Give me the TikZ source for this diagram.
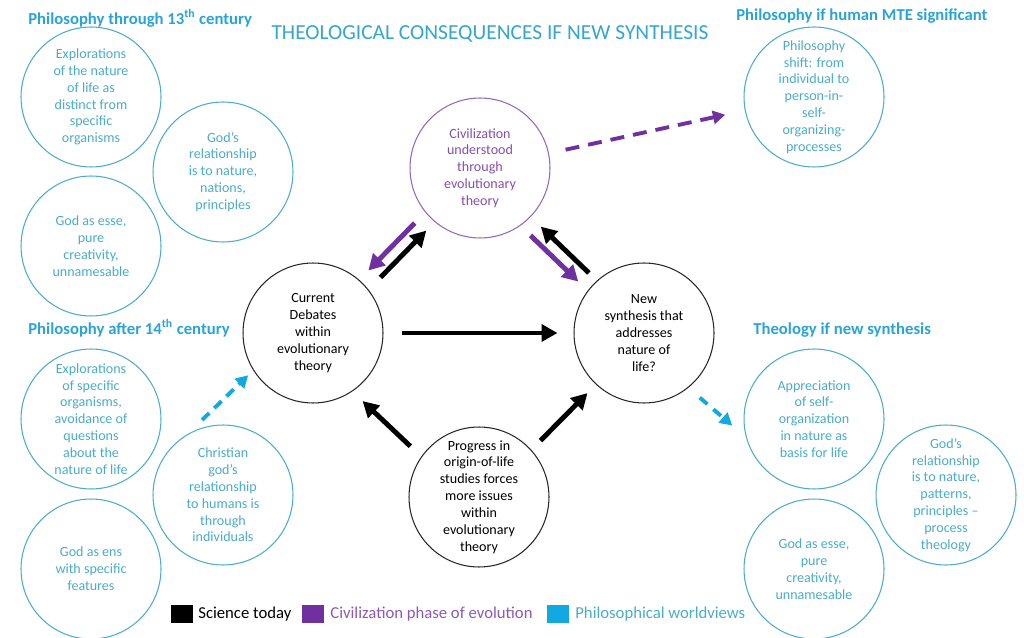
\documentclass[tikz,border=0pt]{standalone}
\usepackage{fontspec}
\setmainfont{Carlito}
\usetikzlibrary{arrows.meta}
\definecolor{aqua}{HTML}{4BACC6}
\definecolor{headblue}{HTML}{2AA3D6}
\definecolor{titleblue}{HTML}{35A6CC}
\definecolor{skyblue}{HTML}{12A8E2}
\definecolor{plum}{HTML}{7030A0}
\tikzset{
  ring/.style={circle, draw, line width=0.6pt, minimum size=2.8cm, inner sep=0pt, align=center, font=\fontsize{8}{9.6}\selectfont},
  philo/.style={ring, draw=aqua, text=aqua},
  sci/.style={ring, draw=black!85, text=black},
  civ/.style={ring, draw=plum!75, text=plum!85},
  heading/.style={anchor=west, inner sep=0pt, text=headblue, font=\fontsize{9.5}{11}\selectfont\bfseries},
  keybox/.style={minimum width=0.43cm, minimum height=0.36cm, inner sep=0pt},
  keytext/.style={anchor=west, inner sep=0pt, font=\fontsize{9.5}{11}\selectfont},
  fat/.style={line width=2.8pt, -{Triangle[length=9pt,width=9.5pt]}},
  thin dash/.style={line width=2.2pt, -{Triangle[length=7pt,width=7.5pt]}},
}

\begin{document}
\begin{tikzpicture}[x=0.02cm, y=-0.02cm]
		%%%%% START %%%%%
		\useasboundingbox (0,0) rectangle (1024,638);
		
		\node[text=titleblue, font=\fontsize{12.2}{14}\selectfont] (title) at (490,34) {THEOLOGICAL CONSEQUENCES IF NEW SYNTHESIS};
		
		\node[heading] (h13) at (28,18) {Philosophy through 13\textsuperscript{th} century};
		\node[heading] (h14) at (28,328) {Philosophy after 14\textsuperscript{th} century};
		\node[heading] (hmte) at (736,16) {Philosophy if human MTE significant};
		\node[heading] (hnew) at (753,330) {Theology if new synthesis};
		
		\node[philo] (life13) at (91,97) {Explorations\\of the nature\\of life as\\distinct from\\specific\\organisms};
		\node[philo] (rel13) at (223,172) {God’s\\relationship\\is to nature,\\nations,\\principles};
		\node[philo] (esse13) at (91,246) {God as esse,\\pure\\creativity,\\unnamesable};
		
		\node[philo] (life14) at (91,419) {Explorations\\of specific\\organisms,\\avoidance of\\questions\\about the\\nature of life};
		\node[philo] (rel14) at (223,495) {Christian\\god’s\\relationship\\to humans is\\through\\individuals};
		\node[philo] (ens14) at (91,569) {God as ens\\with specific\\features};
		
		\node[philo] (shift) at (814,97) {Philosophy\\shift: from\\individual to\\person-in-\\self-\\organizing-\\processes};
		
		\node[philo] (appr) at (814,419) {Appreciation\\of self-\\organization\\in nature as\\basis for life};
		\node[philo] (relnew) at (946,495) {God’s\\relationship\\is to nature,\\patterns,\\principles –\\process\\theology};
		\node[philo] (essenew) at (814,569) {God as esse,\\pure\\creativity,\\unnamesable};
		
		\node[sci] (debates) at (313,333) {Current\\Debates\\within\\evolutionary\\theory};
		\node[civ] (civil) at (480,168) {Civilization\\understood\\through\\evolutionary\\theory};
		\node[sci] (synth) at (644,333) {New\\synthesis that\\addresses\\nature of\\life?};
		\node[sci] (origin) at (479,497) {Progress in\\origin-of-life\\studies forces\\more issues\\within\\evolutionary\\theory};
		
		%%%%% ARROWS %%%%%
		\draw[fat, plum, shorten <=0.3cm, shorten >=0.26cm] (civil.219) -- (debates.49);
		\draw[fat, black, shorten <=0.34cm, shorten >=0.24cm] (debates.38) -- (civil.230);
		\draw[fat, plum, shorten <=0.28cm, shorten >=0.26cm] (civil.305) -- (synth.143);
		\draw[fat, black, shorten <=0.22cm, shorten >=0.28cm] (synth.132) -- (civil.316);
		\draw[fat, black, shorten <=0.36cm, shorten >=0.32cm] (debates) -- (synth);
		\draw[fat, black, shorten <=0.3cm, shorten >=0.28cm] (origin.145) -- (debates.304);
		\draw[fat, black, shorten <=0.26cm, shorten >=0.24cm] (origin.42) -- (synth.227);
		
		\draw[thin dash, plum, dash pattern=on 0.28cm off 0.18cm, shorten <=0.34cm, shorten >=0.4cm] (civil.12) -- (shift.191);
		\draw[thin dash, skyblue, dash pattern=on 0.2cm off 0.14cm, shorten <=0.4cm, shorten >=0.14cm] (rel14.120) -- (debates.212);
		\draw[thin dash, skyblue, dash pattern=on 0.2cm off 0.16cm, shorten <=0.3cm, shorten >=0.36cm] (synth.309) -- (appr.195);
		
		%%%%% KEY %%%%%
		\node[keybox, fill=black] (ksci) at (182,614) {};
		\node[keytext, text=black] (tsci) at (198,614) {Science today};
		\node[keybox, fill=plum] (kciv) at (313,614) {};
		\node[keytext, text=plum!80] (tciv) at (330,614) {Civilization phase of evolution};
		\node[keybox, fill=skyblue] (kphil) at (558,614) {};
		\node[keytext, text=aqua] (tphil) at (575,614) {Philosophical worldviews};
		
		%%%%% END %%%%%
	\end{tikzpicture}
\end{document}
